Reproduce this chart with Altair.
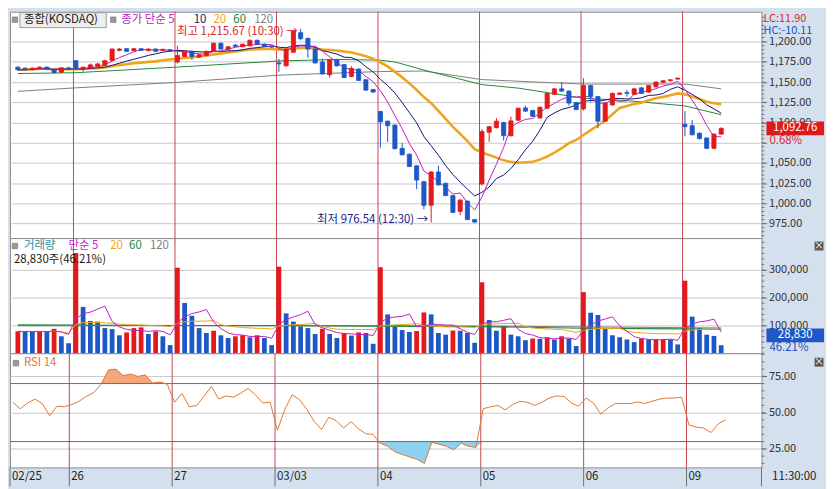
import altair as alt
import pandas as pd

FONT = "Noto Sans CJK KR"
RED = "#E3191C"
BLUE = "#1D58C6"
SEP = "#C5464F"
BG = "#D5E0EE"
MAG = "#C21FC2"
NAVY = "#14146E"
ORANGE = "#EEA51C"
GREEN = "#23883A"
GRAY = "#7E7E7E"
TEAL = "#2F8C9E"
RSI_C = "#E3762F"

# ---------------- data (30-minute bars, k = 0..97) ----------------
opens = [1168.4, 1167.2, 1165.2, 1166.4, 1168.4, 1165.6, 1162.0, 1167.6,
         1176.4, 1166.0, 1167.6, 1169.6, 1170.8, 1176.8, 1189.2, 1191.2, 1188.8, 1191.2, 1188.8, 1190.8, 1189.0, 1190.0,
         1174.8, 1181.6, 1188.0, 1180.8, 1182.8, 1188.0, 1198.0, 1190.4, 1195.6, 1193.6, 1194.8, 1201.6, 1196.8, 1194.0,
         1173.6, 1170.0, 1186.8, 1211.0, 1204.0, 1190.8, 1174.8, 1159.0, 1177.6, 1171.6, 1156.8, 1166.0, 1152.8, 1140.8,
         1113.6, 1101.6, 1096.8, 1068.0, 1060.8, 1046.4, 1026.8, 997.6, 1038.8, 1024.8, 1009.6, 990.0, 1002.8, 980.0,
         1024.0, 1088.0, 1093.6, 1100.0, 1083.6, 1102.8, 1118.0, 1114.8, 1105.6, 1117.6, 1134.8, 1141.6, 1138.8, 1124.8,
         1116.8, 1145.6, 1132.0, 1101.6, 1121.6, 1134.8, 1137.0, 1134.8, 1142.8, 1137.6, 1144.0, 1149.6, 1151.6, 1153.6,
         1097.6, 1096.0, 1086.8, 1080.8, 1068.0, 1085.6]
closes = [1165.2, 1165.2, 1167.2, 1168.4, 1166.0, 1161.6, 1167.6, 1166.0,
          1166.8, 1168.4, 1171.2, 1172.4, 1176.4, 1190.8, 1190.8, 1188.0, 1191.2, 1189.2, 1190.8, 1188.0, 1190.4, 1188.0,
          1182.8, 1188.0, 1181.6, 1183.6, 1188.0, 1198.0, 1190.8, 1193.6, 1194.0, 1196.8, 1201.6, 1196.8, 1193.6, 1193.2,
          1172.4, 1190.8, 1213.0, 1203.6, 1190.8, 1173.6, 1160.0, 1177.6, 1170.0, 1155.6, 1166.8, 1152.0, 1140.0, 1137.6,
          1100.8, 1096.0, 1067.6, 1060.0, 1045.6, 1028.8, 997.6, 1038.8, 1022.8, 1009.6, 988.8, 1004.0, 980.0, 976.8,
          1088.8, 1094.8, 1101.6, 1083.6, 1102.0, 1117.6, 1114.0, 1107.6, 1118.8, 1136.0, 1141.6, 1138.8, 1124.0, 1116.0,
          1145.6, 1132.0, 1101.6, 1124.0, 1136.0, 1136.4, 1136.0, 1141.6, 1136.0, 1145.6, 1150.0, 1151.6, 1152.8, 1154.8,
          1094.8, 1084.8, 1080.0, 1068.0, 1085.6, 1092.76]
highs = [1169.5, 1168.0, 1168.0, 1169.2, 1169.2, 1166.4, 1168.4, 1168.4,
         1177.2, 1169.2, 1172.8, 1173.6, 1177.2, 1191.6, 1192.0, 1192.0, 1192.0, 1192.0, 1191.6, 1191.6, 1191.2, 1190.8,
         1194.8, 1189.2, 1189.2, 1184.8, 1188.8, 1198.8, 1198.8, 1194.4, 1197.2, 1197.6, 1202.4, 1202.4, 1197.6, 1194.8,
         1178.8, 1191.6, 1213.6, 1215.67, 1204.8, 1191.6, 1178.8, 1178.4, 1178.4, 1172.4, 1169.6, 1166.8, 1153.6, 1141.6,
         1114.4, 1102.4, 1097.6, 1074.8, 1061.6, 1047.2, 1027.6, 1039.6, 1046.8, 1025.6, 1010.4, 1005.6, 1003.6, 980.8,
         1092.0, 1095.6, 1105.6, 1100.8, 1107.2, 1118.4, 1120.8, 1115.6, 1119.6, 1136.8, 1142.4, 1150.0, 1139.6, 1125.6,
         1154.8, 1146.4, 1132.8, 1124.8, 1136.8, 1137.2, 1140.0, 1142.4, 1143.6, 1146.4, 1150.8, 1152.4, 1153.6, 1155.6,
         1114.0, 1102.8, 1087.6, 1081.6, 1086.4, 1094.0]
lows = [1164.4, 1164.4, 1164.4, 1165.6, 1165.2, 1160.8, 1161.2, 1165.2,
        1165.6, 1162.8, 1166.8, 1168.8, 1170.0, 1176.0, 1188.0, 1187.2, 1188.0, 1188.4, 1188.0, 1187.2, 1188.4, 1187.2,
        1172.8, 1180.8, 1177.6, 1180.0, 1182.0, 1187.6, 1190.0, 1189.6, 1193.2, 1193.2, 1194.4, 1196.0, 1193.2, 1192.4,
        1162.8, 1169.2, 1186.0, 1201.6, 1180.0, 1172.8, 1159.2, 1155.6, 1169.2, 1154.8, 1156.0, 1151.2, 1139.2, 1136.8,
        1068.8, 1076.0, 1066.8, 1059.2, 1044.8, 1017.6, 992.8, 976.54, 1022.0, 1008.8, 988.0, 985.6, 979.2, 976.6,
        1022.0, 1076.0, 1092.8, 1077.6, 1082.8, 1102.0, 1113.2, 1106.8, 1104.8, 1116.8, 1134.0, 1138.0, 1120.8, 1115.2,
        1114.8, 1124.8, 1092.8, 1100.8, 1120.8, 1134.0, 1132.0, 1134.0, 1135.2, 1136.8, 1143.2, 1148.8, 1150.8, 1152.8,
        1083.0, 1084.0, 1079.2, 1067.2, 1066.8, 1084.8]

volumes = [78800, 78000, 77500, 78500, 77000, 88000, 61000, 36000,
           361000, 167000, 116000, 114000, 90600, 87000, 64700, 75000, 90600, 93000, 69400, 78800, 61000, 29300,
           308000, 181000, 135000, 90600, 73000, 81000, 64700, 55000, 61000, 64700, 57600, 64700, 55000, 29300,
           312000, 143600, 114000, 96500, 90600, 69400, 88000, 69400, 55000, 73000, 63500, 75000, 73000, 34000,
           309800, 140000, 96500, 83500, 76500, 80000, 147000, 140000, 73000, 67000, 82000, 81000, 73000, 37600,
           255600, 120000, 81000, 99000, 67000, 61000, 47000, 53000, 52000, 57600, 49500, 61000, 53000, 25800,
           220000, 146000, 137700, 87000, 64700, 57600, 49500, 40000, 53000, 49500, 50500, 51000, 49500, 31800,
           261500, 132000, 90600, 67000, 62389, 28830]
vol_dirs = ("RBBRBRBB" + "RBBBBBBRRRBRBB" + "RBBBBRBBRRBRBB" + "RBBBBBRBBRBRBB"
            + "RBBBBRRBBBRBBB" + "RBBRBBBRBRBRBB" + "RBBBBBBBRBRRBB" + "RBBBBB")

rsi14 = [57.1, 52.6, 56.6, 59.3, 56.2, 47.8, 54.4, 54.0,
         55.5, 57.8, 61.1, 63.8, 69.5, 79.3, 80.0, 75.5, 76.6, 74.9, 76.0, 70.4, 71.1, 69.5,
         57.1, 63.3, 54.0, 54.9, 61.1, 68.2, 59.3, 61.5, 60.6, 63.3, 66.7, 62.2, 56.6, 57.1,
         37.8, 52.2, 62.2, 58.9, 52.2, 43.8, 38.4, 46.7, 44.4, 39.3, 43.8, 38.9, 35.5, 34.9,
         28.9, 26.7, 22.9, 21.1, 19.3, 17.8, 14.9, 29.5, 28.2, 26.7, 24.4, 28.9, 26.7, 26.0,
         52.6, 54.0, 54.9, 51.8, 55.5, 57.8, 57.1, 54.9, 57.1, 60.0, 61.5, 61.1, 56.6, 54.4,
         60.0, 56.6, 48.9, 53.3, 56.2, 56.2, 56.2, 57.3, 56.2, 57.8, 59.3, 60.0, 60.0, 60.6,
         41.5, 40.0, 39.3, 36.2, 42.2, 45.1]

# long moving averages at a few bars
ma60_k = [0, 8, 22, 36, 44, 50, 52, 56, 64, 69, 78, 84, 92, 97]
ma60_v = [1160.5, 1161.5, 1168.5, 1176.0, 1178.0, 1177.0, 1174.8, 1164.8, 1146.8, 1142.5, 1130.0, 1127.0, 1120.5, 1109.6]
ma120_k = [0, 8, 22, 36, 50, 56, 64, 74, 78, 92, 97]
ma120_v = [1138.5, 1142.8, 1149.6, 1158.5, 1163.0, 1163.6, 1153.0, 1149.0, 1147.5, 1147.5, 1141.6]
vma60_k = [0, 22, 36, 50, 64, 78, 92, 97]
vma60_v = [102000, 100000, 99000, 98000, 96000, 90000, 88000, 86000]
vma120_k = [0, 36, 64, 78, 97]
vma120_v = [99000, 100000, 98000, 95000, 91000]

day_labels = ["02/25", "26", "27", "03/03", "04", "05", "06", "09"]
day_pos = [-0.4, 7.67, 21.67, 35.67, 49.67, 63.67, 77.67, 91.67]

price_ticks = [975, 1000, 1025, 1050, 1075, 1100, 1125, 1150, 1175, 1200]
price_hidden = 1075   # label covered by the change-rate text in the reference
vol_ticks = [100000, 200000, 300000]
rsi_ticks = [25, 50, 75]
rsi_levels = [70, 30]

# ---------------- frames ----------------
n = len(closes)
bars = pd.DataFrame({"k": list(range(n)), "open": opens, "high": highs, "low": lows, "close": closes})
bars["dir"] = ["up" if c >= o else "down" for o, c in zip(opens, closes)]
vol = pd.DataFrame({"k": list(range(n)), "vol": volumes,
                    "dir": ["up" if d == "R" else "down" for d in vol_dirs]})
rsi = pd.DataFrame({"k": list(range(n)), "rsi": rsi14})
seps = pd.DataFrame({"k": day_pos[1:]})
days = pd.DataFrame({"k": day_pos, "lab": day_labels})
one = pd.DataFrame({"a": [0]})

W = 757
HM, HV, HR = 228, 116, 115

XS = alt.Scale(domain=[-0.4, 101.87], nice=False, zero=False)
X = alt.X("k:Q", scale=XS, axis=None)
SM = alt.Scale(domain=[957.1, 1236.9], nice=False, zero=False)
SV = alt.Scale(domain=[0, 415000], nice=False, zero=False)
SR = alt.Scale(domain=[12.2, 90.9], nice=False, zero=False)
DIRS = alt.Scale(domain=["up", "down"], range=[RED, BLUE])


def ax(values, fmt, expr=None):
    kw = dict(orient="right", values=values, format=fmt, grid=True, gridColor="#C8C8C8",
              domain=False, tickSize=5, tickColor="#666666", labelColor="#333333",
              labelFont=FONT, labelFontSize=11, labelPadding=2, title=None,
              labelOverlap=False, labelFlush=False, labelBound=False)
    if expr:
        kw["labelExpr"] = expr
    return alt.Axis(**kw)


AXM = ax(price_ticks, ",.2f", "datum.value == %d ? '' : datum.label" % price_hidden)
AXV = ax(vol_ticks, ",.0f")
AXR = ax(rsi_ticks, ".2f")


def YM(f):
    return alt.Y(f, scale=SM, axis=AXM)


def YV(f):
    return alt.Y(f, scale=SV, axis=AXV)


def YR(f):
    return alt.Y(f, scale=SR, axis=AXR)


def label(txt, x, y, color, size=11.5, align="left"):
    return alt.Chart(one).mark_text(text=txt, align=align, baseline="middle", font=FONT,
                                    fontSize=size, color=color).encode(x=alt.value(x), y=alt.value(y))


def square(x, y):
    return alt.Chart(one).mark_square(size=30, color="#9A9A9A", stroke="#6E6E6E", strokeWidth=0.6,
                                      opacity=1).encode(x=alt.value(x), y=alt.value(y))


def closebox(y):
    return [alt.Chart(one).mark_square(size=80, color="#555555", opacity=1).encode(
                x=alt.value(W + 58), y=alt.value(y)),
            label("×", W + 58, y, "white", size=10, align="center")]


def minor(values, yfn):
    return alt.Chart(pd.DataFrame({"t": values})).mark_rule(color="#777777").encode(
        x=alt.value(W), x2=alt.value(W + 3), y=yfn("t:Q"))


def sep_layer():
    return alt.Chart(seps).mark_rule(color=SEP, strokeWidth=1).encode(x=X)


# ---------------- price panel ----------------
maw = (alt.Chart(bars)
       .transform_window(ma5="mean(close)", frame=[-4, 0], sort=[{"field": "k"}])
       .transform_window(ma10="mean(close)", frame=[-9, 0], sort=[{"field": "k"}])
       .transform_window(ma20="mean(close)", frame=[-19, 0], sort=[{"field": "k"}]))
l5 = maw.mark_line(color=MAG, strokeWidth=1).encode(x=X, y=YM("ma5:Q"))
l10 = maw.mark_line(color=NAVY, strokeWidth=1).encode(x=X, y=YM("ma10:Q"))
l20 = maw.mark_line(color=ORANGE, strokeWidth=2.6).encode(x=X, y=YM("ma20:Q"))
l60 = alt.Chart(pd.DataFrame({"k": ma60_k, "v": ma60_v})).mark_line(color=GREEN, strokeWidth=1).encode(
    x=X, y=YM("v:Q"))
l120 = alt.Chart(pd.DataFrame({"k": ma120_k, "v": ma120_v})).mark_line(color=GRAY, strokeWidth=1).encode(
    x=X, y=YM("v:Q"))

wicks = alt.Chart(bars).mark_rule(strokeWidth=1).encode(
    x=X, y=YM("low:Q"), y2="high:Q", color=alt.Color("dir:N", scale=DIRS, legend=None))
bodies = alt.Chart(bars).mark_bar(size=4.2, strokeWidth=0.8).encode(
    x=X, y=YM("open:Q"), y2="close:Q",
    fill=alt.Fill("dir:N", scale=DIRS, legend=None), stroke=alt.Stroke("dir:N", scale=DIRS, legend=None))

hi_row = bars[bars["high"] == max(highs)]
lo_row = bars[bars["low"] == min(lows)]
hi_txt = alt.Chart(hi_row).mark_text(align="right", baseline="middle", font=FONT, fontSize=11.5, color="#D9262B",
                                     dx=-3, dy=3).encode(
    x=X, y=YM("high:Q"), text=alt.value("최고 1,215.67 (10:30) →"))
lo_txt = alt.Chart(lo_row).mark_text(align="right", baseline="middle", font=FONT, fontSize=11.5, color="#1A1A8A",
                                     dx=-3, dy=-2).encode(
    x=X, y=YM("low:Q"), text=alt.value("최저 976.54 (12:30) →"))

last = bars.tail(1)
pbox = alt.Chart(last).mark_tick(orient="horizontal", size=58, thickness=14, color="#E0181B", opacity=1).encode(
    x=alt.value(W + 34), y=YM("close:Q"))
ptxt = alt.Chart(last).mark_text(align="center", baseline="middle", font=FONT, fontSize=11.5, color="white").encode(
    x=alt.value(W + 34), y=YM("close:Q"), text=alt.value("1,092.76"))
ppct = alt.Chart(last).mark_text(align="left", baseline="middle", font=FONT, fontSize=11.5, color="#D9262B",
                                 dy=13).encode(
    x=alt.value(W + 8), y=YM("close:Q"), text=alt.value("0.68%"))

button = alt.Chart(one).mark_rect(fill="#EEEEEE", stroke="#9A9A9A", strokeWidth=1).encode(
    x=alt.value(10), x2=alt.value(97), y=alt.value(1), y2=alt.value(16))

main = alt.layer(
    sep_layer(), l120, l60, l20, l10, l5, wicks, bodies, hi_txt, lo_txt,
    minor(list(range(960, 1235, 5)), YM),
    square(5, 8), button, label("종합(KOSDAQ)", 14, 8.5, "#1A1A1A"),
    square(104, 8), label("종가 단순 5", 112, 8, MAG), label("10", 185, 8, NAVY),
    label("20", 205, 8, ORANGE), label("60", 225, 8, GREEN), label("120", 246, 8, GRAY),
    label("LC:11.90", W + 2, 7, "#D9262B", size=11), label("HC:-10.11", W + 2, 19, "#2050C0", size=11),
    pbox, ptxt, ppct,
).properties(width=W, height=HM)

# ---------------- volume panel ----------------
vw = (alt.Chart(vol)
      .transform_window(v5="mean(vol)", frame=[-4, 0], sort=[{"field": "k"}])
      .transform_window(v20="mean(vol)", frame=[-19, 0], sort=[{"field": "k"}]))
vbars = alt.Chart(vol).mark_bar(size=4.8).encode(
    x=X, y=YV("vol:Q"), color=alt.Color("dir:N", scale=DIRS, legend=None))
v5 = vw.mark_line(color=MAG, strokeWidth=1).encode(x=X, y=YV("v5:Q"))
v20 = vw.mark_line(color=ORANGE, strokeWidth=1).encode(x=X, y=YV("v20:Q"))
v60 = alt.Chart(pd.DataFrame({"k": vma60_k, "v": vma60_v})).mark_line(color=GREEN, strokeWidth=1.2).encode(
    x=X, y=YV("v:Q"))
v120 = alt.Chart(pd.DataFrame({"k": vma120_k, "v": vma120_v})).mark_line(color=GRAY, strokeWidth=1).encode(
    x=X, y=YV("v:Q"))
vbox = alt.Chart(one).mark_tick(orient="horizontal", size=58, thickness=14, color="#1D58C6", opacity=1).encode(
    x=alt.value(W + 34), y=alt.value(HV - 18))

volume = alt.layer(
    sep_layer(), vbars, v120, v60, v20, v5,
    minor(list(range(0, 415000, 20000)), YV),
    square(5, 8), label("거래량", 14, 8, TEAL), label("단순 5", 59, 8, MAG), label("20", 101, 8, ORANGE),
    label("60", 120, 8, GREEN), label("120", 141, 8, GRAY), label("28,830주(46.21%)", 4, 22, "#1A1A1A"),
    vbox, label("28,830", W + 34, HV - 18, "white", align="center"),
    label("46.21%", W + 8, HV - 5, "#2050C0"),
    *closebox(8),
).properties(width=W, height=HV)

# ---------------- RSI panel ----------------
rsi_hi = alt.Chart(rsi).transform_calculate(hi="max(datum.rsi, 70)").mark_area(color="#F4A67C", opacity=1).encode(
    x=X, y=YR("hi:Q"), y2=alt.datum(70))
rsi_lo = alt.Chart(rsi).transform_calculate(lo="min(datum.rsi, 30)").mark_area(color="#8DD3F1", opacity=1).encode(
    x=X, y=YR("lo:Q"), y2=alt.datum(30))
rsi_line = alt.Chart(rsi).mark_line(color=RSI_C, strokeWidth=1).encode(x=X, y=YR("rsi:Q"))
lvls = alt.Chart(pd.DataFrame({"lvl": rsi_levels})).mark_rule(color="#6C6C6C", strokeWidth=1).encode(
    y=YR("lvl:Q"))
strip_ticks = alt.Chart(days).mark_rule(color="#6E6E6E").encode(
    x=X, y=alt.value(HR), y2=alt.value(HR + 19))
strip_txt = alt.Chart(days).mark_text(align="left", baseline="middle", font=FONT, fontSize=11.5,
                                      color="#222222", dx=2).encode(
    x=X, y=alt.value(HR + 10), text="lab:N")
right_edge = alt.Chart(one).mark_rule(color="#6E6E6E").encode(
    x=alt.value(W), y=alt.value(HR), y2=alt.value(HR + 19))

rsi_panel = alt.layer(
    rsi_hi, rsi_lo, lvls, sep_layer(), rsi_line,
    minor(list(range(15, 91, 5)), YR),
    square(6, 10), label("RSI 14", 14, 10, RSI_C),
    *closebox(9),
    strip_ticks, strip_txt, right_edge,
    label("11:30:00", W + 33, HR + 10, "#222222", align="center"),
).properties(width=W, height=HR)

chart = alt.vconcat(main, volume, rsi_panel, spacing=0, bounds="flush").configure(
    background=BG, padding={"left": 1, "top": 1, "right": 1, "bottom": 0}, font=FONT
).configure_view(stroke="#8C8C8C", strokeWidth=1, fill="white")

chart.save("out.html", embed_options={"renderer": "svg", "actions": False})
